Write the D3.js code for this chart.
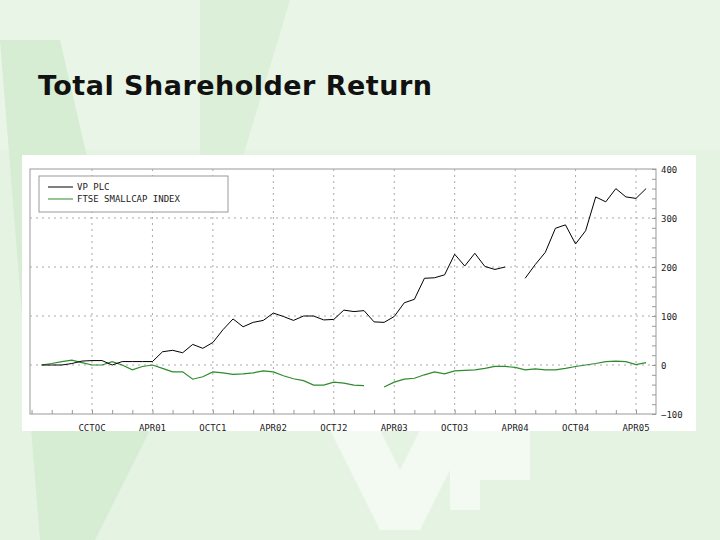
<!DOCTYPE html>
<html><head><meta charset="utf-8">
<script src="https://cdn.jsdelivr.net/npm/d3@7/dist/d3.min.js"></script>
<style>body{margin:0;background:#e6f4e4}svg{display:block}</style>
</head><body>
<svg id="c" width="720" height="540"></svg>
<script>
const tickIdx = [5,11,17,23,29,35,41,47,53,59];
const tickLabels = ["CCTOC","APR01","OCTC1","APR02","OCTJ2","APR03","OCTO3","APR04","OCT04","APR05"];
const yTicks = [-100,0,100,200,300,400];
const seriesNames = ["VP PLC","FTSE SMALLCAP INDEX"];
const vp = [0,0,0,3,8,9,9,0,7,7,7,7,27,30,25,42,34,46,72,94,78,87,91,106,99,91,100,100,92,93,112,109,111,88,87,99,127,134,177,178,184,226,202,228,201,195,200,null,177,205,230,279,286,247,274,343,333,360,343,340,360];
const ftse = [0,3,7,10,5,0,0,7,0,-10,-3,0,-7,-14,-14,-29,-24,-14,-16,-19,-18,-16,-12,-14,-22,-28,-32,-41,-41,-35,-37,-41,-42,null,-45,-35,-29,-27,-20,-14,-18,-12,-11,-10,-7,-3,-3,-5,-10,-8,-10,-10,-7,-3,0,3,7,8,7,1,5];

const svg = d3.select("#c");
svg.append("rect").attr("width",720).attr("height",540).attr("fill","#e5f3e3");
svg.append("rect").attr("x",0).attr("y",0).attr("width",720).attr("height",150).attr("fill","#e9f6e7");
svg.append("path").attr("d","M0,40 L60,40 L150,430 L95,540 L40,540 Z").attr("fill","#d6ecd3");
svg.append("path").attr("d","M200,0 L290,0 L200,300 Z").attr("fill","#dcefd9");
svg.append("path").attr("d","M330,430 L380,430 L400,470 L420,430 L470,430 L420,530 L380,530 Z").attr("fill","#f3faf2");
svg.append("path").attr("d","M450,430 L530,430 L530,480 L480,480 L480,510 L450,510 Z").attr("fill","#f3faf2");
svg.append("text").attr("x",38).attr("y",95).attr("font-family","DejaVu Sans").attr("font-weight","bold")
  .attr("font-size",27).attr("textLength",394).attr("fill","#111").text("Total Shareholder Return");

svg.append("rect").attr("x",22).attr("y",155).attr("width",674).attr("height",276).attr("fill","#fff");
const L=30,R=656,T=169,B=414;
const x = d3.scaleLinear().domain([5,59]).range([92,636]);
const y = d3.scaleLinear().domain([-100,400]).range([B,T]);
const g = svg.append("g");
g.append("rect").attr("x",L).attr("y",T).attr("width",R-L).attr("height",B-T).attr("fill","none").attr("stroke","#999");
g.selectAll(".vg").data(tickIdx).join("line").attr("x1",d=>x(d)).attr("x2",d=>x(d)).attr("y1",T).attr("y2",B)
  .attr("stroke","#aaa").attr("stroke-dasharray","2,4");
g.selectAll(".hg").data([0,100,200,300]).join("line").attr("x1",L).attr("x2",R).attr("y1",d=>y(d)).attr("y2",d=>y(d))
  .attr("stroke","#aaa").attr("stroke-dasharray","2,4");
const xa = g.append("g").attr("transform",`translate(0,${B})`)
  .call(d3.axisBottom(x).tickValues(d3.range(-1,61,2)).tickSize(-4).tickFormat(""));
xa.select(".domain").remove(); xa.selectAll("line").attr("stroke","#999");
g.selectAll(".xl").data(tickIdx).join("text").attr("x",d=>x(d)).attr("y",B+17).attr("text-anchor","middle")
  .attr("font-family","DejaVu Sans Mono").attr("font-size",9).attr("fill","#222").text((d,i)=>tickLabels[i]);
const ya = g.append("g").attr("transform",`translate(${R},0)`)
  .call(d3.axisRight(y).tickValues(d3.range(-100,401,20)).tickSize(-4).tickFormat(""));
ya.select(".domain").remove(); ya.selectAll("line").attr("stroke","#999");
g.selectAll(".yl").data(yTicks).join("text").attr("x",R+5).attr("y",d=>y(d)+4)
  .attr("font-family","DejaVu Sans Mono").attr("font-size",9).attr("fill","#222").text(d=>d===-100?"\u2212100":d);
const line = d3.line().defined(d=>d!==null).x((d,i)=>x(i)).y(d=>y(d));
g.append("path").datum(ftse).attr("d",line).attr("fill","none").attr("stroke","#2e8b2e").attr("stroke-width",1.2);
g.append("path").datum(vp).attr("d",line).attr("fill","none").attr("stroke","#000").attr("stroke-width",1);
const lg = g.append("g");
lg.append("rect").attr("x",39).attr("y",176).attr("width",189).attr("height",36).attr("fill","#fff").attr("stroke","#999");
const cols=["#000","#2e8b2e"];
seriesNames.forEach((n,i)=>{
  lg.append("line").attr("x1",48).attr("x2",73).attr("y1",187+i*12).attr("y2",187+i*12).attr("stroke",cols[i]);
  lg.append("text").attr("x",77).attr("y",190+i*12).attr("font-family","DejaVu Sans Mono").attr("font-size",9).attr("fill","#222").text(n);
});
</script>
</body></html>
